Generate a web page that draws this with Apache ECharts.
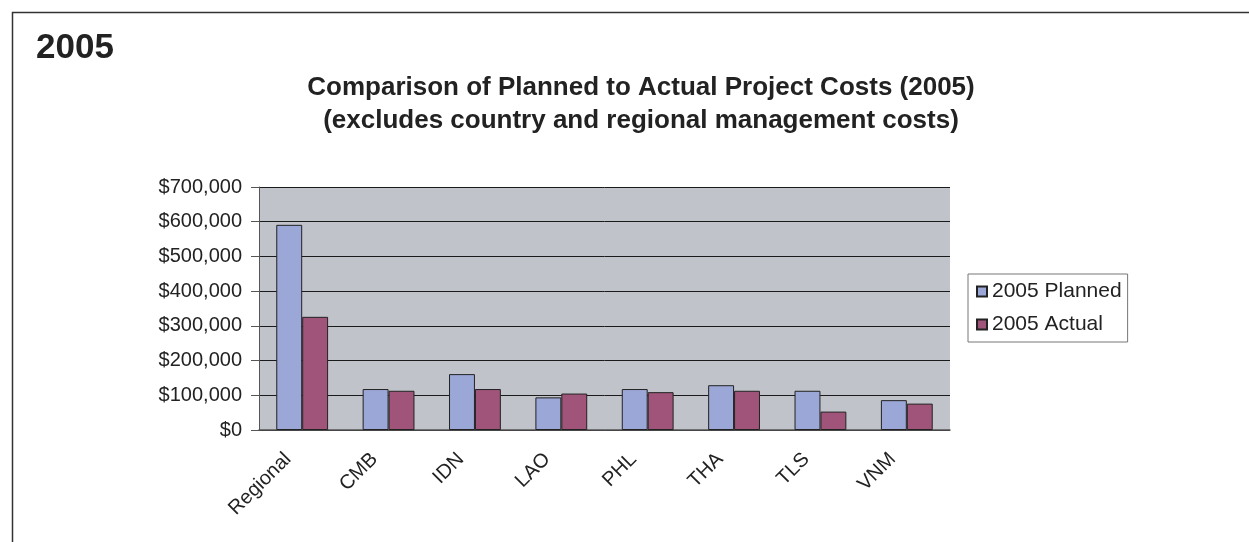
<!DOCTYPE html>
<html>
<head>
<meta charset="utf-8">
<script src="https://cdn.jsdelivr.net/npm/echarts@6/dist/echarts.min.js"></script>
<style>
html, body { margin: 0; padding: 0; background: #fff; }
#chart { width: 1249px; height: 542px; }
</style>
</head>
<body>
<div id="chart"></div>
<script>
var categories = ['Regional', 'CMB', 'IDN', 'LAO', 'PHL', 'THA', 'TLS', 'VNM'];
var planned = [591000, 118000, 161000, 94000, 118000, 129000, 113000, 86000];
var actual = [326000, 113000, 118000, 105000, 109000, 113000, 53000, 76000];
var yTicks = [0, 100000, 200000, 300000, 400000, 500000, 600000, 700000];

var myChart = echarts.init(document.getElementById('chart'));

function money(v) {
	return '$' + v.toString().replace(/\B(?=(\d{3})+(?!\d))/g, ',');
}

var option = {
	backgroundColor : '#ffffff',
	textStyle : {
		fontFamily : 'Liberation Sans, Arial, sans-serif'
	},
	title : [ {
		text : '2005',
		left : 31,
		top : 26,
		textStyle : {
			fontSize : 35,
			fontWeight : 'bold',
			color : '#222'
		}
	}, {
		text : 'Comparison of Planned to Actual Project Costs (2005)\n(excludes country and regional management costs)',
		left : 636,
		top : 66,
		textAlign : 'center',
		textStyle : {
			fontSize : 26,
			fontWeight : 'bold',
			lineHeight : 33,
			color : '#222'
		}
	} ],
	graphic : [ {
		type : 'polyline',
		shape : {
			points : [ [ 12.5, 542 ], [ 12.5, 12.5 ], [ 1249, 12.5 ] ]
		},
		style : {
			stroke : '#333',
			lineWidth : 1.5,
			fill : null
		}
	} ],
	legend : {
		data : [ '2005 Planned', '2005 Actual' ],
		orient : 'vertical',
		left : 968,
		top : 274,
		padding : [ 7, 6, 7, 8 ],
		itemWidth : 10,
		itemHeight : 10,
		itemGap : 12,
		borderColor : '#777',
		borderWidth : 1,
		icon : 'rect',
		textStyle : {
			fontSize : 21,
			color : '#222'
		}
	},
	grid : {
		left : 259,
		right : 299,
		top : 187,
		bottom : 112,
		containLabel : false,
		show : true,
		backgroundColor : '#c0c3ca',
		borderWidth : 0
	},
	xAxis : [ {
		type : 'category',
		data : categories,
		axisLine : {
			lineStyle : {
				color : '#555',
				width : 1.5
			}
		},
		axisTick : {
			length : 7,
			lineStyle : {
				color : '#555'
			}
		},
		axisLabel : {
			rotate : 45,
			fontSize : 20,
			color : '#222',
			margin : 12,
			padding : [ 0, 20, 0, 0 ]
		}
	} ],
	yAxis : [ {
		type : 'value',
		min : 0,
		max : 700000,
		interval : 100000,
		axisLine : {
			show : true,
			lineStyle : {
				color : '#555'
			}
		},
		axisTick : {
			show : true,
			length : 8,
			lineStyle : {
				color : '#555'
			}
		},
		splitLine : {
			lineStyle : {
				color : '#1a1a1a',
				width : 1
			}
		},
		axisLabel : {
			fontSize : 20,
			color : '#222',
			margin : 17,
			formatter : function(v) {
				return yTicks.indexOf(v) >= 0 ? money(v) : '';
			}
		}
	} ],
	series : [ {
		name : '2005 Planned',
		type : 'bar',
		data : planned,
		barGap : '0%',
		barCategoryGap : '40%',
		itemStyle : {
			color : '#9ba7d6',
			borderColor : '#222',
			borderWidth : 1
		}
	}, {
		name : '2005 Actual',
		type : 'bar',
		data : actual,
		itemStyle : {
			color : '#a05479',
			borderColor : '#222',
			borderWidth : 1
		}
	} ]
};
myChart.setOption(option);
</script>
</body>
</html>
